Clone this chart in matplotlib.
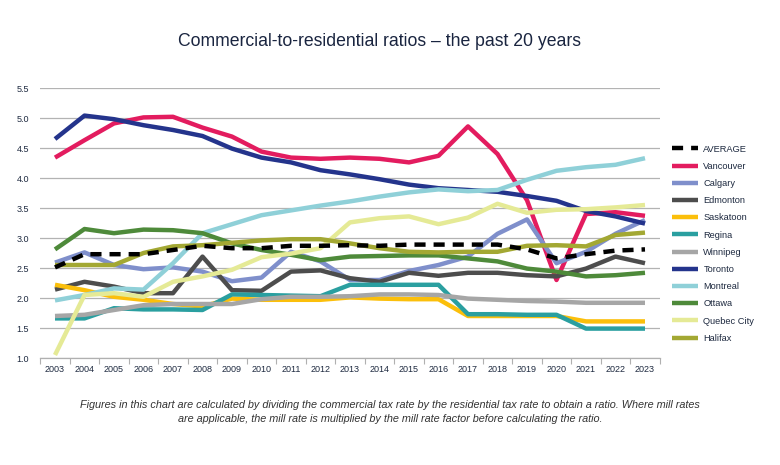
import matplotlib
matplotlib.use("Agg")
import matplotlib.pyplot as plt

plt.rcParams['font.family'] = ['Liberation Sans', 'DejaVu Sans']

years = list(range(2003, 2024))

average = [2.51, 2.73, 2.73, 2.73, 2.80, 2.87, 2.83, 2.83, 2.87, 2.87, 2.88,
           2.87, 2.89, 2.89, 2.89, 2.89, 2.81, 2.66, 2.73, 2.79, 2.81]
vancouver = [4.34, 4.63, 4.91, 5.01, 5.02, 4.84, 4.69, 4.44, 4.34, 4.32, 4.34,
             4.32, 4.26, 4.37, 4.86, 4.40, 3.63, 2.30, 3.40, 3.43, 3.37]
calgary = [2.59, 2.76, 2.55, 2.48, 2.51, 2.44, 2.28, 2.34, 2.77, 2.61, 2.30,
           2.30, 2.45, 2.55, 2.69, 3.07, 3.31, 2.58, 2.77, 3.07, 3.30]
edmonton = [2.14, 2.27, 2.19, 2.08, 2.08, 2.69, 2.13, 2.12, 2.44, 2.46, 2.33,
            2.27, 2.42, 2.37, 2.42, 2.42, 2.38, 2.36, 2.49, 2.69, 2.58]
saskatoon = [2.22, 2.13, 2.02, 1.97, 1.90, 1.86, 1.99, 1.97, 1.97, 1.97, 2.01,
             1.99, 1.98, 1.98, 1.70, 1.70, 1.70, 1.70, 1.61, 1.61, 1.61]
regina = [1.66, 1.66, 1.83, 1.81, 1.81, 1.80, 2.06, 2.05, 2.04, 2.03, 2.22,
          2.22, 2.22, 2.22, 1.73, 1.73, 1.72, 1.72, 1.49, 1.49, 1.49]
winnipeg = [1.70, 1.72, 1.80, 1.88, 1.90, 1.90, 1.90, 1.98, 2.02, 2.02, 2.03,
            2.06, 2.06, 2.05, 1.99, 1.97, 1.95, 1.94, 1.92, 1.92, 1.92]
toronto = [4.65, 5.04, 4.98, 4.88, 4.80, 4.70, 4.49, 4.34, 4.26, 4.13, 4.06,
           3.98, 3.89, 3.83, 3.80, 3.77, 3.70, 3.62, 3.45, 3.36, 3.24]
montreal = [1.96, 2.05, 2.16, 2.14, 2.58, 3.08, 3.23, 3.38, 3.46, 3.54, 3.61,
            3.69, 3.76, 3.81, 3.78, 3.80, 3.97, 4.12, 4.18, 4.22, 4.33]
ottawa = [2.81, 3.15, 3.08, 3.14, 3.13, 3.08, 2.91, 2.80, 2.72, 2.63, 2.69,
          2.70, 2.71, 2.71, 2.66, 2.61, 2.49, 2.44, 2.36, 2.38, 2.42]
quebec_city = [1.05, 2.05, 2.08, 2.02, 2.27, 2.36, 2.47, 2.68, 2.74, 2.83, 3.26,
               3.33, 3.36, 3.23, 3.34, 3.57, 3.42, 3.47, 3.48, 3.51, 3.55]
halifax = [2.55, 2.55, 2.55, 2.75, 2.86, 2.88, 2.92, 2.96, 2.98, 2.98, 2.91,
           2.83, 2.77, 2.76, 2.77, 2.77, 2.87, 2.88, 2.86, 3.05, 3.09]

cities = ['Vancouver', 'Calgary', 'Edmonton', 'Saskatoon', 'Regina', 'Winnipeg',
          'Toronto', 'Montreal', 'Ottawa', 'Quebec City', 'Halifax']
city_values = [vancouver, calgary, edmonton, saskatoon, regina, winnipeg,
               toronto, montreal, ottawa, quebec_city, halifax]
colors = ['#e31c5f', '#7f8fcb', '#4d4d4d', '#fbbf0b', '#2a9fa0', '#a6a6a6',
          '#24348c', '#8fd0d8', '#4e8a3a', '#e5ea96', '#a3a833']

fig = plt.figure(figsize=(7.8, 4.65), dpi=100)
ax = fig.add_axes([40.25 / 780, 107 / 465, 619.5 / 780, 270 / 465])

lw = 3.2
for name, vals, c in zip(cities, city_values, colors):
    ax.plot(years, vals, color=c, lw=lw, label=name, solid_capstyle='butt', zorder=2)
avg_line, = ax.plot(years, average, color='black', lw=lw, dashes=(2.5, 1.8),
                    label='AVERAGE', zorder=3)

ax.set_xlim(2002.5, 2023.5)
ax.set_ylim(1.0, 5.5)
ax.set_yticks([1.0 + 0.5 * i for i in range(10)])
ax.set_yticklabels(['%.1f' % (1.0 + 0.5 * i) for i in range(10)])
ax.set_xticks(years)
ax.set_xticks([y + 0.5 for y in range(2002, 2024)], minor=True)
ax.tick_params(axis='x', which='major', length=0, labelsize=6.5, colors='#1e2a40', pad=5)
ax.tick_params(axis='x', which='minor', length=4, color='#b0b0b0', width=0.8)
ax.tick_params(axis='y', length=0, labelsize=6.5, colors='#1e2a40', pad=8)
ax.grid(axis='y', color='#b3b3b3', lw=0.9)
ax.set_axisbelow(True)
for s in ['top', 'right', 'left']:
    ax.spines[s].set_visible(False)
ax.spines['bottom'].set_color('#b0b0b0')
ax.spines['bottom'].set_linewidth(0.9)

handles, labels = ax.get_legend_handles_labels()
handles = [handles[-1]] + handles[:-1]
labels = [labels[-1]] + labels[:-1]
leg = fig.legend(handles, labels, loc='upper left', bbox_to_anchor=(668 / 780, 1 - 141 / 465),
                 frameon=False, fontsize=6.7, handlelength=2.8, handletextpad=0.6,
                 labelspacing=0.88, borderaxespad=0)
for t in leg.get_texts():
    t.set_color('#1e2a40')

fig.text(379 / 780, 1 - 42 / 465, 'Commercial-to-residential ratios \u2013 the past 20 years',
         ha='center', va='center', fontsize=12.7, color='#1a2540')
fig.text(390 / 780, 1 - 412 / 465,
         'Figures in this chart are calculated by dividing the commercial tax rate by the residential tax rate to obtain a ratio. Where mill rates\n'
         'are applicable, the mill rate is multiplied by the mill rate factor before calculating the ratio.',
         ha='center', va='center', fontsize=7.8, style='italic', color='#333333', linespacing=1.45)

fig.savefig('out.png', dpi=100)
